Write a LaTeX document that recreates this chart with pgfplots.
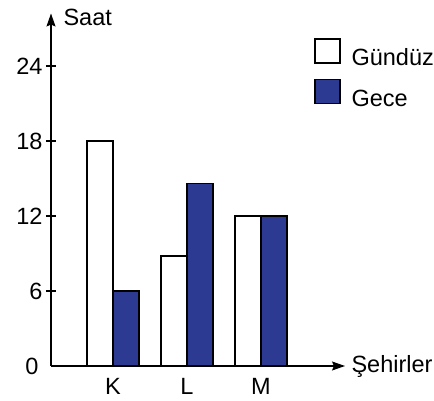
\documentclass[border=0pt]{standalone}
\usepackage{pgfplots}
\pgfplotsset{compat=1.18}
\usepackage{fontspec}
\setmainfont{Liberation Sans}
\usetikzlibrary{arrows.meta}
\definecolor{geceblue}{RGB}{44,58,145}
\newcommand{\bigf}{\fontsize{23.5}{28}\selectfont}
\begin{document}
\begin{tikzpicture}[x=1pt,y=1pt]
\begin{axis}[
  at={(51pt,35pt)}, anchor=south west,
  x=74pt, y=12.5pt,
  xmin=0.162, xmax=4.135, ymin=0, ymax=28.2,
  clip=false,
  axis lines=left,
  axis line style={line width=1.2pt,-{Stealth[length=13pt,width=9pt,inset=2pt]}},
  ybar=0pt, bar width=26pt,
  xtick={1,2,3}, xticklabels={K,L,M},
  ytick={6,12,18,24},
  yticklabels={6,12,18,24},
  extra y ticks={0}, extra y tick labels={0},
  extra y tick style={major tick length=0pt, yticklabel style={xshift=-9pt}},
  major x tick style={draw=none},
  tick align=center, major tick length=10pt,
  tick style={line width=1.2pt, black},
  every tick label/.append style={font=\bigf},
  yticklabel style={font=\bigf},
  xticklabel style={font=\bigf, inner sep=0pt, yshift=-7pt},
  legend style={at={(rel axis cs:0.895,0.93)}, anchor=north west, draw=none, fill=none,
    font=\bigf, row sep=10pt, inner sep=0pt,
    /tikz/every odd column/.style={column sep=9pt}},
  legend cell align=left,
  legend image code/.code={\draw[#1, line width=1.2pt] (0pt,-5pt) rectangle (25pt,19pt);},
]
\addplot[draw=black, fill=white, line width=1.2pt] coordinates {(1,18) (2,8.8) (3,12)};
\addplot[draw=black, fill=geceblue, line width=1.2pt] coordinates {(1,6) (2,14.6) (3,12)};
\legend{Gündüz, Gece}
\node[anchor=west, font=\bigf, xshift=9pt, yshift=-4pt] at (rel axis cs:0,1) {Saat};
\node[anchor=west, font=\bigf, xshift=3pt] at (rel axis cs:1,0) {Şehirler};
\end{axis}
\pgfresetboundingbox
\useasboundingbox (0,0) rectangle (434,401);
\end{tikzpicture}
\end{document}
